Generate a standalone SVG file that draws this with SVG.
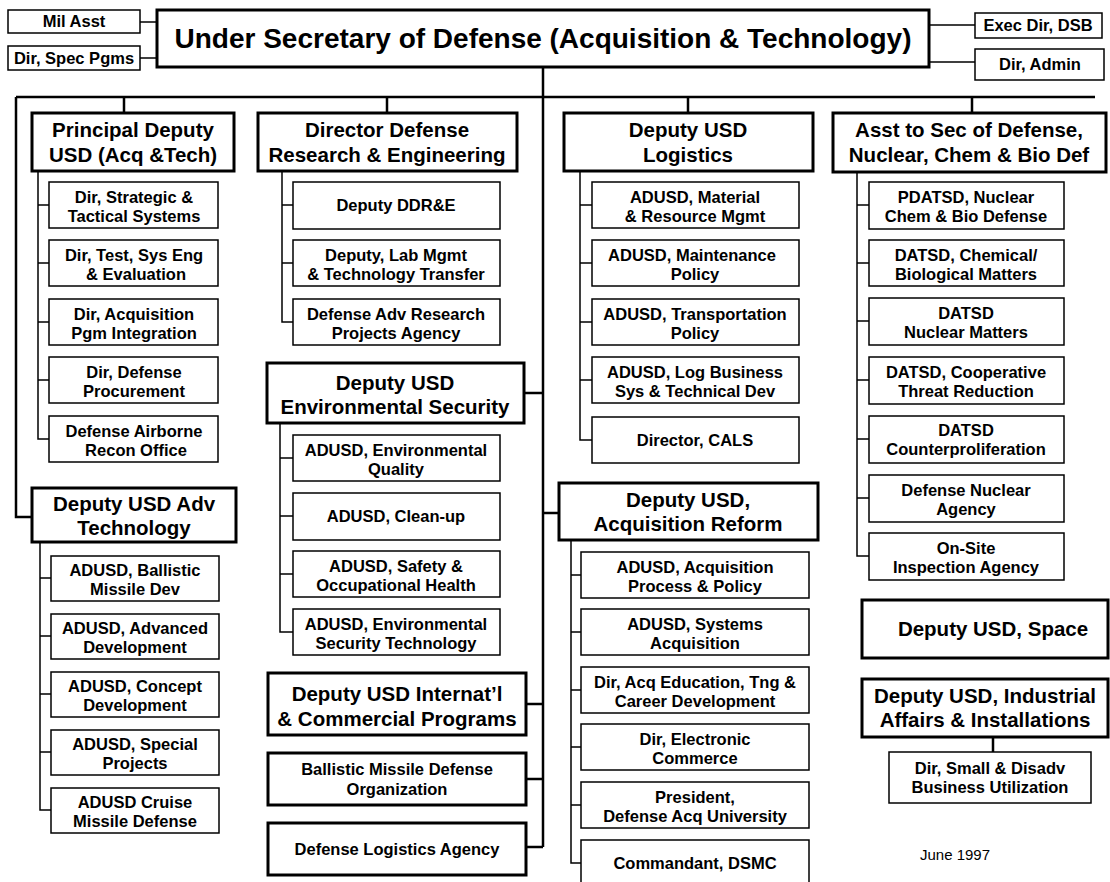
<svg xmlns="http://www.w3.org/2000/svg" width="1110" height="882" viewBox="0 0 1110 882">
<style>
text{font-family:"Liberation Sans",Arial,sans-serif;font-weight:bold;fill:#000;text-anchor:middle}
.t{font-size:28px}
.h{font-size:20.5px}
.c{font-size:16.5px}
.s{font-size:16.5px}
.d{font-size:15px;font-weight:normal}
.bk{fill:#fff;stroke:#000;stroke-width:3}
.bn{fill:#fff;stroke:#000;stroke-width:1.5}
.cn{fill:none;stroke:#000;stroke-width:1.5}
.ck{fill:none;stroke:#000;stroke-width:2.5}
</style>
<rect width="1110" height="882" fill="#fff"/>
<g id="connectors">
<path class="ck" d="M543 67V847M16 97H1095M16 97V517H32M124 97V113M387 97V113M688 97V113M972 97V113M524 393H543M526 704H543M526 779H543M526 847H543M543 513H559M993 737V752"/>
<path class="cn" d="M140 22H157M140 58H157M929 25H975M929 62H975"/>
<path class="cn" d="M38 171V439H49M38 205H49M38 263H49M38 322H49M38 380H49"/>
<path class="cn" d="M40 542V810H51M40 578H51M40 636H51M40 694H51M40 752H51"/>
<path class="cn" d="M282 171V322H293M282 205H293M282 263H293"/>
<path class="cn" d="M280 423V632H293M280 458H293M280 516H293M280 574H293"/>
<path class="cn" d="M580 171V440H592M580 205H592M580 263H592M580 322H592M580 380H592"/>
<path class="cn" d="M571 540V863H581M571 575H581M571 632H581M571 690H581M571 747H581M571 805H581"/>
<path class="cn" d="M857 172V556H869M857 205H869M857 263H869M857 321H869M857 380H869M857 439H869M857 498H869"/>
</g>
<g id="usd"><rect class="bk" x="157" y="10" width="772" height="57"/><text class="t" x="543" y="48">Under Secretary of Defense (Acquisition &amp; Technology)</text></g>
<g id="milasst"><rect class="bn" x="8" y="10" width="132" height="23"/><text class="s" x="74" y="27">Mil Asst</text></g>
<g id="specpgms"><rect class="bn" x="8" y="46" width="132" height="24"/><text class="s" x="74" y="64">Dir, Spec Pgms</text></g>
<g id="dsb"><rect class="bn" x="975" y="13" width="127" height="25"/><text class="s" x="1038" y="31">Exec Dir, DSB</text></g>
<g id="admin"><rect class="bn" x="975" y="49" width="129" height="31"/><text class="s" x="1040" y="70">Dir, Admin</text></g>

<g id="pdusd"><rect class="bk" x="32" y="113" width="202" height="58"/><text class="h" x="133" y="137">Principal Deputy</text><text class="h" x="133" y="162">USD (Acq &amp;Tech)</text></g>
<g id="c1a"><rect class="bn" x="49" y="182" width="169" height="46"/><text class="c" x="134" y="203">Dir, Strategic &amp;</text><text class="c" x="134" y="222">Tactical Systems</text></g>
<g id="c1b"><rect class="bn" x="49" y="240" width="169" height="46"/><text class="c" x="134" y="261">Dir, Test, Sys Eng</text><text class="c" x="136" y="280">&amp; Evaluation</text></g>
<g id="c1c"><rect class="bn" x="49" y="299" width="169" height="46"/><text class="c" x="134" y="320">Dir, Acquisition</text><text class="c" x="134" y="339">Pgm Integration</text></g>
<g id="c1d"><rect class="bn" x="49" y="357" width="169" height="46"/><text class="c" x="134" y="378">Dir, Defense</text><text class="c" x="134" y="397">Procurement</text></g>
<g id="c1e"><rect class="bn" x="49" y="416" width="169" height="46"/><text class="c" x="134" y="437">Defense Airborne</text><text class="c" x="136" y="456">Recon Office</text></g>

<g id="advtech"><rect class="bk" x="32" y="488" width="204" height="54"/><text class="h" x="134" y="511">Deputy USD Adv</text><text class="h" x="134" y="535">Technology</text></g>
<g id="c2a"><rect class="bn" x="51" y="556" width="168" height="45"/><text class="c" x="135" y="576">ADUSD, Ballistic</text><text class="c" x="135" y="595">Missile Dev</text></g>
<g id="c2b"><rect class="bn" x="51" y="614" width="168" height="45"/><text class="c" x="135" y="634">ADUSD, Advanced</text><text class="c" x="135" y="653">Development</text></g>
<g id="c2c"><rect class="bn" x="51" y="672" width="168" height="45"/><text class="c" x="135" y="692">ADUSD, Concept</text><text class="c" x="135" y="711">Development</text></g>
<g id="c2d"><rect class="bn" x="51" y="730" width="168" height="45"/><text class="c" x="135" y="750">ADUSD, Special</text><text class="c" x="135" y="769">Projects</text></g>
<g id="c2e"><rect class="bn" x="51" y="788" width="168" height="45"/><text class="c" x="135" y="808">ADUSD Cruise</text><text class="c" x="135" y="827">Missile Defense</text></g>

<g id="ddre"><rect class="bk" x="258" y="113" width="259" height="58"/><text class="h" x="387" y="137">Director Defense</text><text class="h" x="387" y="162">Research &amp; Engineering</text></g>
<g id="c3a"><rect class="bn" x="293" y="182" width="207" height="47"/><text class="c" x="396" y="211">Deputy DDR&amp;E</text></g>
<g id="c3b"><rect class="bn" x="293" y="240" width="207" height="46"/><text class="c" x="396" y="261">Deputy, Lab Mgmt</text><text class="c" x="396" y="280">&amp; Technology Transfer</text></g>
<g id="c3c"><rect class="bn" x="293" y="299" width="207" height="46"/><text class="c" x="396" y="320">Defense Adv Research</text><text class="c" x="396" y="339">Projects Agency</text></g>

<g id="envsec"><rect class="bk" x="267" y="363" width="257" height="60"/><text class="h" x="395" y="390">Deputy USD</text><text class="h" x="395" y="414">Environmental Security</text></g>
<g id="c4a"><rect class="bn" x="293" y="435" width="207" height="46"/><text class="c" x="396" y="456">ADUSD, Environmental</text><text class="c" x="396" y="475">Quality</text></g>
<g id="c4b"><rect class="bn" x="293" y="493" width="207" height="47"/><text class="c" x="396" y="522">ADUSD, Clean-up</text></g>
<g id="c4c"><rect class="bn" x="293" y="551" width="207" height="46"/><text class="c" x="396" y="572">ADUSD, Safety &amp;</text><text class="c" x="396" y="591">Occupational Health</text></g>
<g id="c4d"><rect class="bn" x="293" y="609" width="207" height="46"/><text class="c" x="396" y="630">ADUSD, Environmental</text><text class="c" x="396" y="649">Security Technology</text></g>

<g id="intl"><rect class="bk" x="268" y="673" width="258" height="62"/><text class="h" x="397" y="701">Deputy USD Internat’l</text><text class="h" x="397" y="726">&amp; Commercial Programs</text></g>
<g id="bmdo"><rect class="bk" x="268" y="753" width="258" height="52"/><text class="c" x="397" y="775">Ballistic Missile Defense</text><text class="c" x="397" y="795">Organization</text></g>
<g id="dla"><rect class="bk" x="268" y="823" width="258" height="52"/><text class="c" x="397" y="855">Defense Logistics Agency</text></g>

<g id="log"><rect class="bk" x="564" y="113" width="249" height="58"/><text class="h" x="688" y="137">Deputy USD</text><text class="h" x="688" y="162">Logistics</text></g>
<g id="c5a"><rect class="bn" x="592" y="182" width="207" height="46"/><text class="c" x="695" y="203">ADUSD, Material</text><text class="c" x="695" y="222">&amp; Resource Mgmt</text></g>
<g id="c5b"><rect class="bn" x="592" y="240" width="207" height="46"/><text class="c" x="692" y="261">ADUSD, Maintenance</text><text class="c" x="695" y="280">Policy</text></g>
<g id="c5c"><rect class="bn" x="592" y="299" width="207" height="46"/><text class="c" x="695" y="320">ADUSD, Transportation</text><text class="c" x="695" y="339">Policy</text></g>
<g id="c5d"><rect class="bn" x="592" y="357" width="207" height="46"/><text class="c" x="695" y="378">ADUSD, Log Business</text><text class="c" x="695" y="397">Sys &amp; Technical Dev</text></g>
<g id="c5e"><rect class="bn" x="592" y="417" width="207" height="46"/><text class="c" x="695" y="446">Director, CALS</text></g>

<g id="acqref"><rect class="bk" x="559" y="483" width="259" height="57"/><text class="h" x="688" y="507">Deputy USD,</text><text class="h" x="688" y="531">Acquisition Reform</text></g>
<g id="c6a"><rect class="bn" x="581" y="552" width="228" height="46"/><text class="c" x="695" y="573">ADUSD, Acquisition</text><text class="c" x="695" y="592">Process &amp; Policy</text></g>
<g id="c6b"><rect class="bn" x="581" y="609" width="228" height="46"/><text class="c" x="695" y="630">ADUSD, Systems</text><text class="c" x="695" y="649">Acquisition</text></g>
<g id="c6c"><rect class="bn" x="581" y="667" width="228" height="46"/><text class="c" x="695" y="688">Dir, Acq Education, Tng &amp;</text><text class="c" x="695" y="707">Career Development</text></g>
<g id="c6d"><rect class="bn" x="581" y="724" width="228" height="46"/><text class="c" x="695" y="745">Dir, Electronic</text><text class="c" x="695" y="764">Commerce</text></g>
<g id="c6e"><rect class="bn" x="581" y="782" width="228" height="46"/><text class="c" x="695" y="803">President,</text><text class="c" x="695" y="822">Defense Acq University</text></g>
<g id="c6f"><rect class="bn" x="581" y="840" width="228" height="48"/><text class="c" x="695" y="869">Commandant, DSMC</text></g>

<g id="atsd"><rect class="bk" x="833" y="113" width="273" height="59"/><text class="h" x="969" y="137">Asst to Sec of Defense,</text><text class="h" x="969" y="162">Nuclear, Chem &amp; Bio Def</text></g>
<g id="c7a"><rect class="bn" x="869" y="182" width="195" height="47"/><text class="c" x="966" y="203">PDATSD, Nuclear</text><text class="c" x="966" y="222">Chem &amp; Bio Defense</text></g>
<g id="c7b"><rect class="bn" x="869" y="240" width="195" height="46"/><text class="c" x="966" y="261">DATSD, Chemical/</text><text class="c" x="966" y="280">Biological Matters</text></g>
<g id="c7c"><rect class="bn" x="869" y="298" width="195" height="47"/><text class="c" x="966" y="319">DATSD</text><text class="c" x="966" y="338">Nuclear Matters</text></g>
<g id="c7d"><rect class="bn" x="869" y="357" width="195" height="47"/><text class="c" x="966" y="378">DATSD, Cooperative</text><text class="c" x="966" y="397">Threat Reduction</text></g>
<g id="c7e"><rect class="bn" x="869" y="416" width="195" height="47"/><text class="c" x="966" y="436">DATSD</text><text class="c" x="966" y="455">Counterproliferation</text></g>
<g id="c7f"><rect class="bn" x="869" y="475" width="195" height="47"/><text class="c" x="966" y="496">Defense Nuclear</text><text class="c" x="966" y="515">Agency</text></g>
<g id="c7g"><rect class="bn" x="869" y="533" width="195" height="47"/><text class="c" x="966" y="554">On-Site</text><text class="c" x="966" y="573">Inspection Agency</text></g>

<g id="space"><rect class="bk" x="862" y="600" width="246" height="58"/><text class="h" x="993" y="636">Deputy USD, Space</text></g>
<g id="indaff"><rect class="bk" x="862" y="679" width="246" height="58"/><text class="h" x="985" y="703">Deputy USD, Industrial</text><text class="h" x="985" y="727">Affairs &amp; Installations</text></g>
<g id="sdbu"><rect class="bn" x="889" y="752" width="202" height="51"/><text class="c" x="990" y="774">Dir, Small &amp; Disadv</text><text class="c" x="990" y="793">Business Utilization</text></g>
<text class="d" x="955" y="860">June 1997</text>
</svg>
